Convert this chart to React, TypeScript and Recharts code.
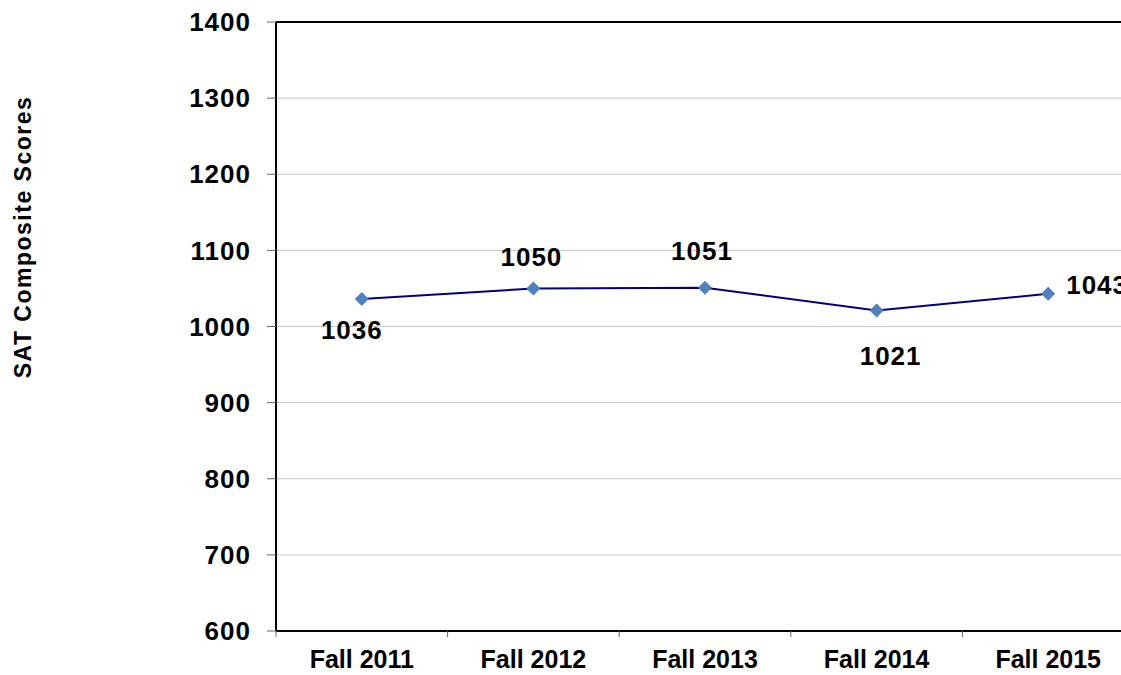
import React from 'react';
import { LineChart, Line, XAxis, YAxis, CartesianGrid, ReferenceLine, LabelList } from 'recharts';

const terms = ['Fall 2011', 'Fall 2012', 'Fall 2013', 'Fall 2014', 'Fall 2015'];
const scores = [1036, 1050, 1051, 1021, 1043];
const yTicks = [600, 700, 800, 900, 1000, 1100, 1200, 1300, 1400];

const data = terms.map((term, i) => ({ term, score: scores[i] }));

const FONT = '"Liberation Sans", Arial, Helvetica, sans-serif';

const CHART_W = 1140;
const Y_AXIS_W = 276;
const MARGIN_R = 6;
const BAND = (CHART_W - Y_AXIS_W - MARGIN_R) / terms.length;

// where each value label sits relative to its point (dx, dy to text centre)
const labelOffsets = [
  { dx: -10, dy: 31, anchor: 'middle' },
  { dx: -2, dy: -32, anchor: 'middle' },
  { dx: -3, dy: -37, anchor: 'middle' },
  { dx: 14, dy: 45, anchor: 'middle' },
  { dx: 18, dy: -9, anchor: 'start' },
];

const Diamond = (props: any) => {
  const { cx, cy } = props;
  if (cx == null || cy == null) return null;
  const r = 7;
  return (
    <polygon
      points={`${cx},${cy - r} ${cx + r},${cy} ${cx},${cy + r} ${cx - r},${cy}`}
      fill="#4F81BD"
    />
  );
};

const ValueLabel = (props: any) => {
  const { x, y, value, index } = props;
  const o = labelOffsets[index] || { dx: 0, dy: -20, anchor: 'middle' };
  return (
    <text
      x={x + o.dx}
      y={y + o.dy}
      dy="0.36em"
      textAnchor={o.anchor}
      fontFamily={FONT}
      fontWeight="bold"
      fontSize={26}
      letterSpacing={1}
      fill="#000"
    >
      {value}
    </text>
  );
};

const TermTick = (props: any) => {
  const { x, y, payload, index } = props;
  const top = y - 19;
  return (
    <g>
      <line x1={x - BAND / 2} x2={x - BAND / 2} y1={top} y2={top + 6} stroke="#666" strokeWidth={1} />
      {index === terms.length - 1 && (
        <line x1={x + BAND / 2} x2={x + BAND / 2} y1={top} y2={top + 6} stroke="#666" strokeWidth={1} />
      )}
      <text x={x} y={y} dy="0.71em" textAnchor="middle" fontFamily={FONT} fontWeight="bold" fontSize={25} fill="#000">
        {payload.value}
      </text>
    </g>
  );
};

const YTitle = () => (
  <text
    x={23}
    y={237}
    transform="rotate(-90, 23, 237)"
    textAnchor="middle"
    dominantBaseline="central"
    fontFamily={FONT}
    fontWeight="bold"
    fontSize={23}
    letterSpacing={1.5}
    fill="#000"
  >
    SAT Composite Scores
  </text>
);

export default function App() {
  return (
    <div style={{ position: 'absolute', left: 0, top: 0, width: 1121, height: 675, overflow: 'hidden', background: '#fff' }}>
      <LineChart width={CHART_W} height={675} data={data} margin={{ top: 22, right: MARGIN_R, bottom: 0, left: 0 }}>
        <CartesianGrid vertical={false} stroke="#c8c8c8" strokeWidth={1} />
        <XAxis
          dataKey="term"
          scale="band"
          height={44}
          tickLine={false}
          tickSize={6}
          tickMargin={13}
          axisLine={{ stroke: '#000', strokeWidth: 2 }}
          tick={<TermTick />}
          interval={0}
        />
        <YAxis
          width={Y_AXIS_W}
          domain={[600, 1400]}
          ticks={yTicks}
          interval={0}
          tickSize={9}
          tickMargin={16}
          tickLine={{ stroke: '#666', strokeWidth: 1 }}
          axisLine={{ stroke: '#000', strokeWidth: 2 }}
          tick={{ fontFamily: FONT, fontWeight: 'bold', fontSize: 26, letterSpacing: 1, fill: '#000' }}
          label={{ content: () => <YTitle /> }}
        />
        <ReferenceLine y={1400} stroke="#000" strokeWidth={2} />
        <Line
          dataKey="score"
          stroke="#000080"
          strokeWidth={2}
          dot={<Diamond />}
          activeDot={false}
          isAnimationActive={false}
        >
          <LabelList dataKey="score" content={<ValueLabel />} />
        </Line>
      </LineChart>
    </div>
  );
}
